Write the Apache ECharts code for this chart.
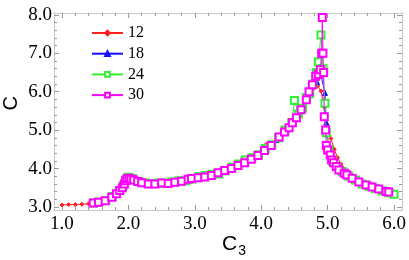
<!DOCTYPE html>
<html><head><meta charset="utf-8">
<script src="https://cdn.jsdelivr.net/npm/echarts@6/dist/echarts.min.js"></script>
<style>html,body{margin:0;padding:0;background:#fff}#c{width:409px;height:260px}</style>
</head><body><div id="c"></div>
<script>
// Tick labels
const xTicks = [1.0, 2.0, 3.0, 4.0, 5.0, 6.0];
const yTicks = [3.0, 4.0, 5.0, 6.0, 7.0, 8.0];
const seriesNames = ['12', '18', '24', '30'];

// Series data [C3, C]
const s12 = [[1.0,3.05],[1.1,3.06],[1.2,3.06],[1.3,3.07],[1.4,3.08],[1.5,3.10],[1.6,3.13],[1.7,3.2],[1.8,3.33],[1.9,3.5],[1.95,3.62],[2.0,3.72],[2.05,3.7],[2.1,3.66],[2.2,3.63],[2.3,3.61],[2.4,3.61],[2.5,3.62],[2.6,3.63],[2.7,3.66],[2.8,3.64],[2.9,3.72],[3.0,3.75],[3.1,3.79],[3.2,3.82],[3.3,3.87],[3.4,3.92],[3.5,3.97],[3.6,4.05],[3.7,4.12],[3.8,4.2],[3.9,4.3],[4.0,4.42],[4.07,4.62],[4.1,4.55],[4.2,4.68],[4.3,4.88],[4.4,5.08],[4.5,5.28],[4.6,5.48],[4.7,5.8],[4.75,5.98],[4.8,6.1],[4.85,6.15],[4.9,6.02],[4.95,5.6],[5.0,5.1],[5.05,4.78],[5.1,4.5],[5.15,4.28],[5.2,4.12],[5.3,3.94],[5.4,3.8],[5.5,3.7],[5.6,3.6],[5.7,3.52],[5.8,3.45],[5.85,3.42]];
const s18 = [[1.53,3.11],[1.63,3.15],[1.73,3.24],[1.83,3.4],[1.93,3.6],[1.98,3.72],[2.03,3.73],[2.13,3.66],[2.23,3.62],[2.33,3.6],[2.43,3.61],[2.53,3.62],[2.63,3.64],[2.73,3.66],[2.83,3.69],[2.93,3.73],[3.03,3.77],[3.13,3.8],[3.23,3.84],[3.33,3.89],[3.43,3.94],[3.53,4.0],[3.63,4.07],[3.73,4.15],[3.83,4.23],[3.93,4.33],[4.03,4.45],[4.13,4.58],[4.23,4.74],[4.33,4.93],[4.43,5.14],[4.53,5.35],[4.63,5.56],[4.7,5.8],[4.75,6.0],[4.8,6.15],[4.84,6.25],[4.9,6.43],[4.96,5.97],[4.98,5.2],[5.01,4.6],[5.06,4.35],[5.12,4.15],[5.2,4.0],[5.3,3.88],[5.4,3.76],[5.5,3.66],[5.6,3.57],[5.7,3.5],[5.8,3.44],[5.9,3.39]];
const s24 = [[1.48,3.1],[1.56,3.13],[1.66,3.17],[1.76,3.27],[1.86,3.42],[1.92,3.55],[1.96,3.7],[2.0,3.77],[2.06,3.74],[2.16,3.66],[2.26,3.62],[2.36,3.61],[2.46,3.62],[2.56,3.62],[2.66,3.65],[2.76,3.68],[2.86,3.68],[2.96,3.73],[3.06,3.79],[3.16,3.82],[3.26,3.85],[3.36,3.86],[3.46,3.94],[3.56,4.03],[3.66,4.12],[3.76,4.22],[3.86,4.28],[3.96,4.36],[4.06,4.52],[4.16,4.62],[4.26,4.8],[4.36,5.0],[4.46,5.2],[4.5,5.77],[4.56,5.42],[4.62,5.57],[4.68,5.85],[4.73,5.95],[4.78,6.2],[4.83,6.5],[4.86,6.78],[4.9,7.48],[4.93,6.6],[4.96,5.7],[4.98,4.93],[5.02,4.5],[5.08,4.18],[5.14,4.05],[5.22,3.92],[5.32,3.8],[5.42,3.7],[5.52,3.6],[5.62,3.54],[5.72,3.48],[5.82,3.42],[5.92,3.37],[6.0,3.33]];
const s30 = [[1.47,3.1],[1.55,3.12],[1.65,3.16],[1.75,3.25],[1.82,3.34],[1.87,3.43],[1.91,3.5],[1.94,3.6],[1.96,3.68],[1.98,3.74],[2.01,3.75],[2.04,3.72],[2.08,3.7],[2.14,3.66],[2.2,3.63],[2.3,3.6],[2.4,3.6],[2.5,3.62],[2.6,3.61],[2.7,3.64],[2.8,3.67],[2.9,3.72],[2.95,3.74],[3.05,3.76],[3.15,3.78],[3.25,3.82],[3.35,3.89],[3.45,3.95],[3.55,4.0],[3.65,4.08],[3.75,4.15],[3.85,4.24],[3.95,4.34],[4.05,4.47],[4.15,4.6],[4.27,4.82],[4.35,4.95],[4.42,5.06],[4.47,5.19],[4.53,5.32],[4.6,5.53],[4.68,5.79],[4.72,6.0],[4.77,6.18],[4.82,6.4],[4.86,6.45],[4.89,6.57],[4.91,7.0],[4.92,7.93],[4.93,7.0],[4.94,6.5],[4.95,5.35],[4.97,5.0],[4.98,4.6],[5.0,4.48],[5.04,4.35],[5.06,4.22],[5.09,4.15],[5.13,4.05],[5.17,3.96],[5.25,3.88],[5.29,3.83],[5.37,3.75],[5.47,3.65],[5.58,3.57],[5.67,3.52],[5.77,3.47],[5.88,3.4],[5.92,3.39]];

const colors = ['#ff2020', '#1010ff', '#33ee33', '#ff00ff'];
const symbols = ['diamond', 'triangle', 'emptyRect', 'emptyRect'];
const symbolSizes = [4, 5, 7, 7];
const allData = [s12, s18, s24, s30];

const XMIN = 0.88, XMAX = 6.12, YMIN = 2.92, YMAX = 8.05;
function steps(a, b, d) { const r = []; for (let i = 0; a + i * d <= b + 1e-9; i++) r.push(+(a + i * d).toFixed(2)); return r; }
const xMinor = steps(1.0, 6.0, 0.2);
const yMinor = steps(3.0, 8.0, 0.2);
const axisGray = '#c8c8c8';
const tickGray = '#999';
const labelFont = { fontFamily: 'Liberation Serif', fontSize: 19, color: '#000' };

function xAx(pos, ticks, len, showLabel) {
  return {
    type: 'value', min: XMIN, max: XMAX, position: pos,
    axisLine: { show: true, onZero: false, lineStyle: { color: axisGray, width: 1 } },
    axisTick: { show: true, inside: true, length: len, customValues: ticks, lineStyle: { color: tickGray, width: 1 } },
    axisLabel: showLabel ? Object.assign({ show: true, customValues: xTicks, margin: 5, formatter: v => v.toFixed(1) }, labelFont) : { show: false },
    splitLine: { show: false }
  };
}
function yAx(pos, ticks, len, showLabel) {
  return {
    type: 'value', min: YMIN, max: YMAX, position: pos,
    axisLine: { show: true, onZero: false, lineStyle: { color: axisGray, width: 1 } },
    axisTick: { show: true, inside: true, length: len, customValues: ticks, lineStyle: { color: tickGray, width: 1 } },
    axisLabel: showLabel ? Object.assign({ show: true, customValues: yTicks, margin: 2, formatter: v => v.toFixed(1) }, labelFont) : { show: false },
    splitLine: { show: false }
  };
}

const chart = echarts.init(document.getElementById('c'), null, { renderer: 'canvas' });
chart.setOption({
  animation: false,
  backgroundColor: '#fff',
  grid: { left: 54, right: 7, top: 13, bottom: 50, containLabel: false },
  xAxis: [xAx('bottom', xTicks, 5, true), xAx('bottom', xMinor, 3, false), xAx('top', xTicks, 5, false), xAx('top', xMinor, 3, false)],
  yAxis: [yAx('left', yTicks, 5, true), yAx('left', yMinor, 3, false), yAx('right', yTicks, 5, false), yAx('right', yMinor, 3, false)],
  legend: {
    orient: 'vertical', left: 86, top: 20, itemWidth: 31, itemHeight: 6, itemGap: 4.7,
    textStyle: { fontFamily: 'Liberation Serif', fontSize: 16, lineHeight: 16, color: '#000', padding: [0, 0, 0, 0] },
    data: seriesNames
  },
  series: seriesNames.map((n, i) => ({
    name: n, type: 'line', data: allData[i], xAxisIndex: 0, yAxisIndex: 0,
    symbol: symbols[i], symbolSize: symbolSizes[i], showAllSymbol: true,
    lineStyle: { color: colors[i], width: 1 },
    itemStyle: { color: colors[i], borderColor: colors[i], borderWidth: 1 },
    z: 2 + i
  })),
  graphic: [
    { type: 'text', left: 1, top: 96, rotation: Math.PI / 2,
      style: { text: 'C', font: '20px "Liberation Sans"', fill: '#000' } },
    { type: 'text', left: 222, top: 234,
      style: { text: '{a|C}{b|3}', rich: { a: { font: '21px "Liberation Sans"', fill: '#000' }, b: { font: '14px "Liberation Sans"', fill: '#000', verticalAlign: 'bottom', padding: [0, 0, -3, 1] } } } }
  ]
});
</script></body></html>
